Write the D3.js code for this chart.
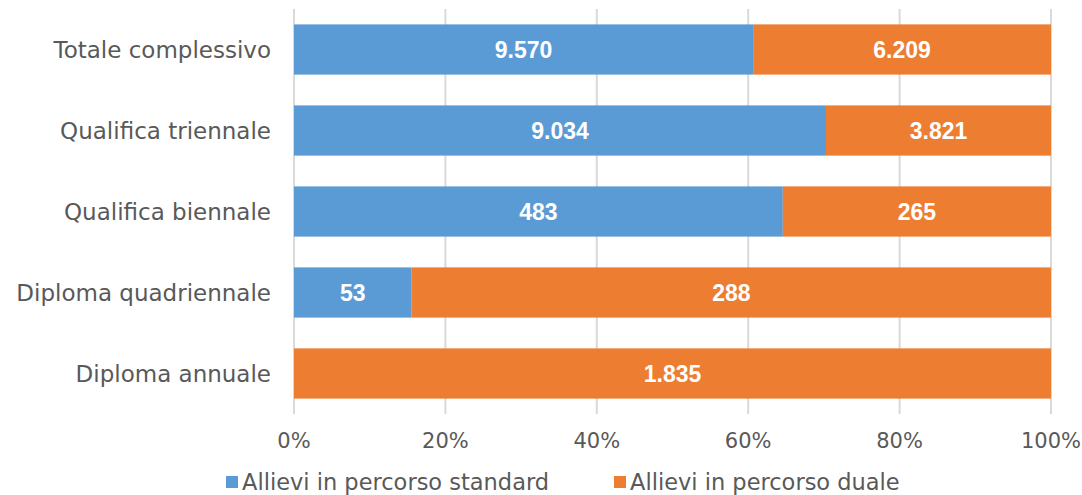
<!DOCTYPE html>
<html>
<head>
<meta charset="utf-8">
<script src="https://cdn.jsdelivr.net/npm/d3@7"></script>
<style>
  body { margin: 0; background: #fff; }
  svg { display: block; font-family: "DejaVu Sans", sans-serif; }
</style>
</head>
<body>
<div id="chart"></div>
<script>
const categories = ['Totale complessivo', 'Qualifica triennale', 'Qualifica biennale', 'Diploma quadriennale', 'Diploma annuale'];
const standard = [9570, 9034, 483, 53, 0];
const duale = [6209, 3821, 265, 288, 1835];
const standardLabels = ['9.570', '9.034', '483', '53', ''];
const dualeLabels = ['6.209', '3.821', '265', '288', '1.835'];
const seriesNames = ['Allievi in percorso standard', 'Allievi in percorso duale'];
const tickValues = [0, 0.2, 0.4, 0.6, 0.8, 1];

const width = 1082, height = 495;
const colors = ['#5B9BD5', '#ED7D31'];

const svg = d3.select('#chart').append('svg')
  .attr('width', width)
  .attr('height', height);

// scales
const x = d3.scaleLinear().domain([0, 1]).range([294, 1051]);
const y = d3.scaleBand().domain(categories).range([9, 414])
  .paddingInner(0.38).paddingOuter(0.19);

// gridlines
svg.append('g').selectAll('line')
  .data(tickValues)
  .join('line')
  .attr('x1', d => x(d)).attr('x2', d => x(d))
  .attr('y1', 9).attr('y2', 414)
  .attr('stroke', '#d9d9d9')
  .attr('stroke-width', 2);

// stacked data (100%)
const rows = categories.map((c, i) => {
  const tot = standard[i] + duale[i];
  return {
    cat: c,
    segs: [
      {x0: 0, x1: standard[i] / tot, label: standardLabels[i], s: 0},
      {x0: standard[i] / tot, x1: 1, label: dualeLabels[i], s: 1}
    ]
  };
});

const rowG = svg.append('g').selectAll('g')
  .data(rows)
  .join('g')
  .attr('transform', d => `translate(0,${y(d.cat)})`);

rowG.selectAll('rect')
  .data(d => d.segs.filter(s => s.x1 > s.x0))
  .join('rect')
  .attr('x', d => x(d.x0))
  .attr('width', d => x(d.x1) - x(d.x0))
  .attr('y', 0)
  .attr('height', y.bandwidth())
  .attr('fill', d => colors[d.s]);

rowG.selectAll('text')
  .data(d => d.segs.filter(s => s.x1 > s.x0))
  .join('text')
  .attr('x', d => (x(d.x0) + x(d.x1)) / 2)
  .attr('y', y.bandwidth() / 2)
  .attr('dy', '0.36em')
  .attr('text-anchor', 'middle')
  .attr('fill', '#fff')
  .attr('font-family', '"Liberation Sans", Arial, sans-serif')
  .attr('font-weight', 'bold')
  .attr('font-size', 23)
  .text(d => d.label);

// category labels
svg.append('g').selectAll('text')
  .data(categories)
  .join('text')
  .attr('x', 271)
  .attr('y', d => y(d) + y.bandwidth() / 2)
  .attr('dy', '0.35em')
  .attr('text-anchor', 'end')
  .attr('fill', '#595959')
  .attr('font-size', 23)
  .text(d => d);

// x tick labels
svg.append('g').selectAll('text')
  .data(tickValues)
  .join('text')
  .attr('x', d => x(d))
  .attr('y', 441)
  .attr('dy', '0.35em')
  .attr('text-anchor', 'middle')
  .attr('fill', '#595959')
  .attr('font-size', 21)
  .text(d => d3.format('.0%')(d));

// legend
const legendX = [226, 614];
const legend = svg.append('g').selectAll('g')
  .data(seriesNames)
  .join('g')
  .attr('transform', (d, i) => `translate(${legendX[i]},482)`);

legend.append('rect')
  .attr('x', 0).attr('y', -6)
  .attr('width', 12).attr('height', 12)
  .attr('fill', (d, i) => colors[i]);

legend.append('text')
  .attr('x', 16)
  .attr('dy', '0.35em')
  .attr('fill', '#595959')
  .attr('font-size', 22.5)
  .text(d => d);
</script>
</body>
</html>
